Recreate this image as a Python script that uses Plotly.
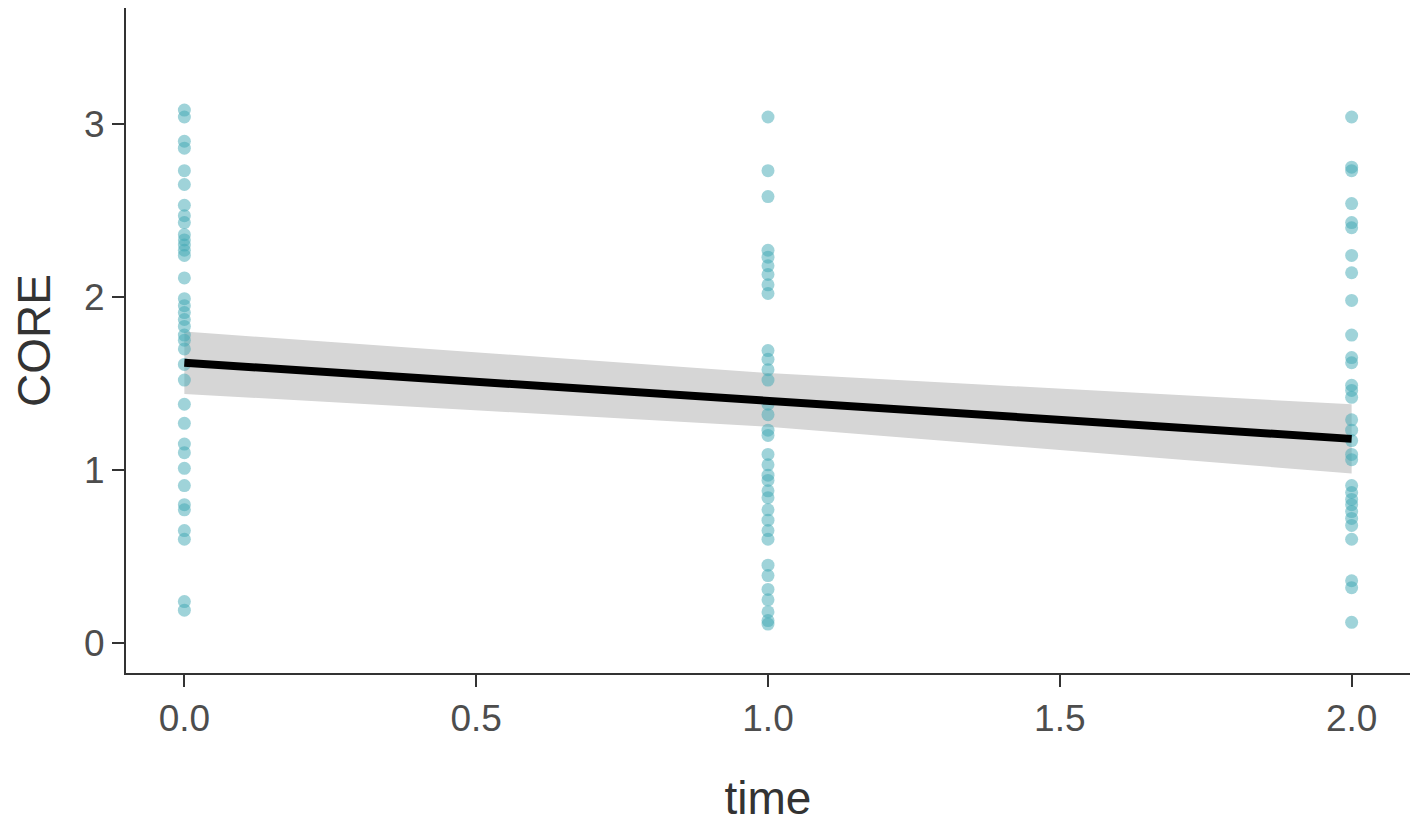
import plotly.graph_objects as go

# ============================ DATA ===============================
# observed CORE scores at each time point
core_t0 = [3.08, 3.04, 2.90, 2.86, 2.73, 2.65, 2.53, 2.47, 2.43, 2.36, 2.33, 2.30, 2.27, 2.24,
           2.11, 1.99, 1.95, 1.91, 1.87, 1.83, 1.78, 1.75, 1.70, 1.61, 1.52, 1.38, 1.27, 1.15,
           1.10, 1.01, 0.91, 0.80, 0.77, 0.65, 0.60, 0.24, 0.19]
core_t1 = [3.04, 2.73, 2.58, 2.27, 2.23, 2.18, 2.13, 2.07, 2.02, 1.69, 1.64, 1.58, 1.52,
           1.38, 1.32, 1.23, 1.20, 1.09, 1.03, 0.97, 0.94, 0.88, 0.84, 0.77, 0.71, 0.65,
           0.60, 0.45, 0.39, 0.31, 0.25, 0.18, 0.13, 0.11]
core_t2 = [3.04, 2.75, 2.73, 2.54, 2.43, 2.40, 2.24, 2.14, 1.98, 1.78, 1.65, 1.62, 1.49,
           1.46, 1.42, 1.29, 1.23, 1.17, 1.09, 1.06, 0.91, 0.87, 0.83, 0.80, 0.76, 0.72,
           0.68, 0.60, 0.36, 0.32, 0.12]

# model fit with confidence band
fit_time = [0, 1, 2]
fit_core = [1.62, 1.40, 1.18]
fit_lower = [1.44, 1.25, 0.98]
fit_upper = [1.80, 1.56, 1.38]

# ============================ PLOT ===============================
pt_x = [0] * len(core_t0) + [1] * len(core_t1) + [2] * len(core_t2)
pt_y = core_t0 + core_t1 + core_t2

fig = go.Figure()

# --> confidence ribbon
fig.add_trace(go.Scatter(x=fit_time + fit_time[::-1], y=fit_upper + fit_lower[::-1],
                         fill='toself', fillcolor='#d6d6d6', line=dict(width=0),
                         mode='lines', hoverinfo='skip', showlegend=False))

# --> raw points
fig.add_trace(go.Scatter(x=pt_x, y=pt_y, mode='markers', showlegend=False,
                         marker=dict(size=13, color='rgba(63,167,179,0.5)', line=dict(width=0))))

# --> fitted line
fig.add_trace(go.Scatter(x=fit_time, y=fit_core, mode='lines', showlegend=False,
                         line=dict(color='black', width=8)))

axis_style = dict(
    showgrid=False, zeroline=False,
    showline=True, linecolor='#333333', linewidth=2,
    ticks='outside', ticklen=12, tickwidth=2, tickcolor='#333333',
    tickfont=dict(size=37, color='#4d4d4d', family='Liberation Sans'),
)

# page body has an 8px margin, so the figure is a bit smaller than the window
fig.update_layout(
    width=1410, height=816,
    paper_bgcolor='white', plot_bgcolor='white',
    margin=dict(l=118, r=8, t=0, b=151),
    font=dict(family='Liberation Sans'),
    xaxis=dict(axis_style, range=[-0.1, 2.1], tickvals=[0, 0.5, 1, 1.5, 2],
               ticktext=['0.0', '0.5', '1.0', '1.5', '2.0'],
               title=dict(text='time', font=dict(size=46, color='#333333'), standoff=44)),
    yaxis=dict(axis_style, range=[-0.173, 3.67], tickvals=[0, 1, 2, 3],
               title=dict(text='CORE', font=dict(size=46, color='#333333'), standoff=28)),
)

fig.write_html("out.html")
